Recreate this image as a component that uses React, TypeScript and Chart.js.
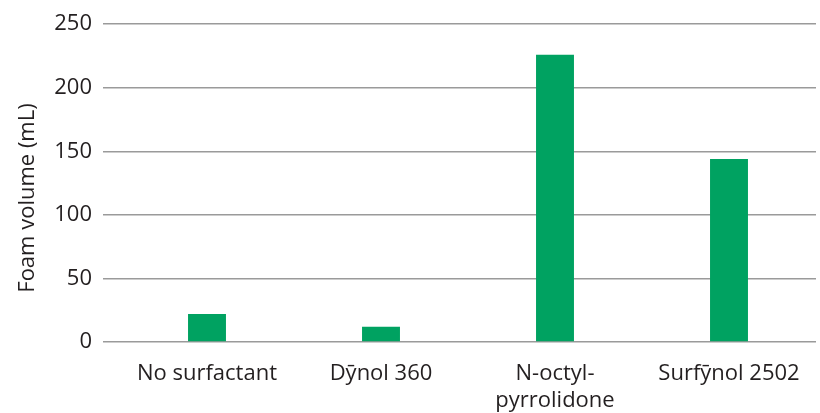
import React, { useEffect, useRef } from 'react';
import { Chart, registerables } from 'chart.js';

Chart.register(...registerables);

const categories: (string | string[])[] = ['No surfactant', 'Dȳnol 360', ['N-octyl-', 'pyrrolidone'], 'Surfȳnol 2502'];
const foamVolume = [22, 12, 226, 144];
const yMin = 0;
const yMax = 250;
const yStep = 50;
const yTitle = 'Foam volume (mL)';

const FONT = '"Open Sans", "DejaVu Sans", sans-serif';
const TEXT = '#231f20';
const GRID = '#9a9a9a';
const BAR = '#00a261';

const titlePlugin = {
  id: 'yTitlePlugin',
  afterDraw(chart: any) {
    const ctx = chart.ctx;
    ctx.save();
    ctx.translate(28, 198);
    ctx.rotate(-Math.PI / 2);
    ctx.font = `22px ${FONT}`;
    ctx.fillStyle = TEXT;
    ctx.textAlign = 'center';
    ctx.textBaseline = 'middle';
    ctx.fillText(yTitle, 0, 0);
    ctx.restore();
  },
};

export default function App() {
  const ref = useRef<HTMLCanvasElement | null>(null);

  useEffect(() => {
    document.body.style.margin = '0';
    if (!ref.current) return;
    const chart = new Chart(ref.current, {
      type: 'bar',
      data: {
        labels: categories,
        datasets: [
          {
            data: foamVolume,
            backgroundColor: BAR,
            borderWidth: 0,
            barPercentage: 0.218,
            categoryPercentage: 1,
          },
        ],
      },
      options: {
        responsive: false,
        animation: false,
        devicePixelRatio: 1,
        layout: { padding: { top: 20, right: 4, left: 0, bottom: 0 } },
        plugins: {
          legend: { display: false },
          tooltip: { enabled: false },
          title: { display: false },
        },
        scales: {
          x: {
            grid: { display: false, drawTicks: false },
            border: { display: false },
            ticks: {
              color: TEXT,
              font: { family: FONT, size: 22, lineHeight: 1.23 },
              padding: 18,
              maxRotation: 0,
              autoSkip: false,
            },
            afterFit(scale: any) {
              scale.height = 71;
            },
          },
          y: {
            min: yMin,
            max: yMax,
            grid: { color: GRID, lineWidth: 1.5, drawTicks: true, tickLength: 17, tickColor: GRID },
            border: { display: false },
            ticks: {
              stepSize: yStep,
              color: TEXT,
              font: { family: FONT, size: 22 },
              padding: 11,
            },
            afterFit(scale: any) {
              scale.width = 120;
            },
          },
        },
      },
      plugins: [titlePlugin],
    });
    return () => chart.destroy();
  }, []);

  return (
    <div style={{ width: 820, height: 413 }}>
      <canvas ref={ref} width={820} height={413} style={{ display: 'block' }} />
    </div>
  );
}
